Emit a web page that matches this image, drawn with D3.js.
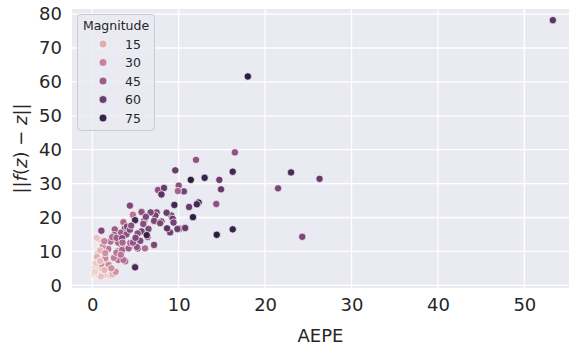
<!DOCTYPE html>
<html><head><meta charset="utf-8">
<script src="https://cdn.jsdelivr.net/npm/d3@7"></script>
<style>body{margin:0;background:#fff}svg{display:block;font-family:"DejaVu Sans",sans-serif}</style>
</head><body><svg id="c" width="569" height="345"></svg>
<script>
const aepe = [53.3,18.0,23.0,26.3,21.5,24.3,16.5,12.0,9.6,11.4,13.0,16.25,14.7,14.9,10.0,10.6,7.6,8.3,8.0,9.9,
9.5,12.3,12.1,11.2,14.35,11.65,16.25,14.4,10.7,10.1,9.0,9.15,9.3,9.4,8.65,8.0,7.45,7.3,6.75,5.7,
4.7,7.15,6.0,4.95,5.9,6.5,5.7,6.4,7.15,6.1,5.25,4.95,4.35,3.6,3.75,4.0,3.3,2.6,1.05,2.55,
3.95,4.35,5.25,6.3,5.55,5.15,4.3,3.4,3.0,1.85,2.1,0.75,0.5,0.6,3.0,3.8,2.9,1.75,1.1,0.75,
0.2,0.65,2.05,0.55,1.05,0.35,1.3,2.3,2.7,1.9,1.5,2.5,2.8,3.45,4.2,3.6,2.3,2.8,3.45,9.85,
10.75,7.85,4.4,1.2,0.9,1.5,0.4,0.9,1.4,0.3,1.0,2.2,3.3,4.7,5.0,4.5,6.2,3.5,1.4,8.6];
const errNorm = [78.2,61.6,33.3,31.4,28.6,14.3,39.2,37.0,33.9,31.1,31.7,33.5,31.1,28.3,29.4,27.7,28.1,28.7,26.8,27.8,
23.7,24.4,23.9,23.1,24.0,20.1,16.5,14.9,16.9,16.7,15.6,20.6,19.6,18.5,16.8,18.8,21.5,20.6,21.5,21.6,
20.8,19.0,19.0,19.2,18.1,16.6,15.9,14.2,11.9,10.9,10.9,5.3,23.5,18.6,16.8,17.3,15.5,16.5,16.1,14.8,
15.0,16.4,15.3,14.8,13.1,11.3,11.4,11.7,12.6,10.7,12.9,13.6,14.0,9.2,7.5,7.1,10.0,6.2,5.6,4.7,
3.4,3.2,2.9,8.4,6.2,5.0,3.0,3.2,4.0,6.0,8.0,8.1,9.6,10.4,10.9,7.5,14.2,14.0,13.9,16.6,
16.9,18.3,12.5,11.5,10.3,9.5,6.5,7.2,4.5,4.0,2.6,5.0,9.0,12.6,14.0,17.6,20.2,12.6,13.0,21.4];
const magnitude = [65,78,70,62,55,55,50,50,60,78,75,72,60,62,50,57,50,62,65,42,
72,75,72,62,50,77,75,78,60,55,58,55,60,57,65,58,55,58,55,50,
35,55,58,72,52,55,58,40,55,38,65,70,55,40,50,55,45,45,55,48,
50,55,52,75,55,50,45,48,42,35,38,12,8,12,40,45,40,30,25,12,
3,5,8,14,25,8,10,12,25,28,28,32,35,42,45,38,40,45,55,60,
62,55,42,25,12,25,5,10,12,3,8,25,35,48,55,50,55,40,30,60];
const xTicks = [0,10,20,30,40,50];
const yTicks = [0,10,20,30,40,50,60,70,80];
const legendTicks = [15,30,45,60,75];
const xLabel = "AEPE", legendTitle = "Magnitude";

function cubehelix(x){ // matplotlib cubehelix, start=0, rot=.4, hue=.8, gamma=1
  const start=0, rot=0.4, hue=0.8;
  const phi = 2*Math.PI*(start/3 + rot*x);
  const amp = hue*x*(1-x)/2;
  const c=Math.cos(phi), s=Math.sin(phi);
  const r = x + amp*(-0.14861*c + 1.78277*s);
  const g = x + amp*(-0.29227*c - 0.90649*s);
  const b = x + amp*(1.97294*c);
  const f=v=>Math.round(Math.max(0,Math.min(1,v))*255);
  return `rgb(${f(r)},${f(g)},${f(b)})`;
}
const hueNorm = d3.scaleLinear().domain(d3.extent(magnitude)).range([0,1]);
const color = m => cubehelix(0.85 - 0.7*hueNorm(m));

const L=72,R=569,T=9,B=288;
const x = d3.scaleLinear().domain([-2.35,55.17]).range([L,R]);
const y = d3.scaleLinear().domain([-0.8,81.5]).range([B,T]);
const svg = d3.select("#c");
svg.append("rect").attr("x",L).attr("y",T).attr("width",R-L).attr("height",B-T).attr("fill","#EAEAF2");
const grid = svg.append("g").attr("stroke","#fff").attr("stroke-width",1.3);
grid.selectAll(".gx").data(xTicks).join("line").attr("x1",d=>x(d)).attr("x2",d=>x(d)).attr("y1",T).attr("y2",B);
grid.selectAll(".gy").data(yTicks).join("line").attr("y1",d=>y(d)).attr("y2",d=>y(d)).attr("x1",L).attr("x2",R);

const gx = svg.append("g").attr("transform",`translate(0,${B})`).call(d3.axisBottom(x).tickValues(xTicks).tickSize(0).tickPadding(10));
const gy = svg.append("g").attr("transform",`translate(${L},0)`).call(d3.axisLeft(y).tickValues(yTicks).tickSize(0).tickPadding(10));
[gx,gy].forEach(g=>{g.select(".domain").remove();g.selectAll("text").attr("font-size",18).attr("fill","#262626").attr("font-family","DejaVu Sans");});

svg.append("text").attr("x",(L+R)/2).attr("y",342).attr("text-anchor","middle").attr("font-size",18).attr("fill","#262626").text(xLabel);
const yl = svg.append("text").attr("transform",`translate(27,${(T+B)/2}) rotate(-90)`).attr("text-anchor","middle").attr("font-size",18).attr("fill","#262626");
yl.append("tspan").text("||");
yl.append("tspan").attr("font-style","italic").text("f");
yl.append("tspan").text("(");
yl.append("tspan").attr("font-style","italic").text("z");
yl.append("tspan").text(") − ");
yl.append("tspan").attr("font-style","italic").text("z");
yl.append("tspan").text("||");

const pts = aepe.map((a,i)=>({a, e:errNorm[i], m:magnitude[i]}));
svg.append("g").selectAll("circle").data(pts).join("circle")
  .attr("cx",d=>x(d.a)).attr("cy",d=>y(d.e)).attr("r",3.7)
  .attr("fill",d=>color(d.m)).attr("stroke","#fff").attr("stroke-width",0.7);

const lg = svg.append("g");
lg.append("rect").attr("x",77.5).attr("y",14.5).attr("width",77).attr("height",116).attr("rx",3)
  .attr("fill","#EAEAF2").attr("fill-opacity",0.8).attr("stroke","#cccccc");
lg.append("text").attr("x",116).attr("y",29.5).attr("text-anchor","middle").attr("font-size",12.5).attr("fill","#262626").text(legendTitle);
legendTicks.forEach((v,i)=>{
  const cy = 44 + i*18.5;
  lg.append("circle").attr("cx",103).attr("cy",cy).attr("r",4).attr("fill",color(v)).attr("stroke","#fff").attr("stroke-width",0.7);
  lg.append("text").attr("x",125).attr("y",cy+4.5).attr("font-size",12.5).attr("fill","#262626").text(v);
});
</script></body></html>
